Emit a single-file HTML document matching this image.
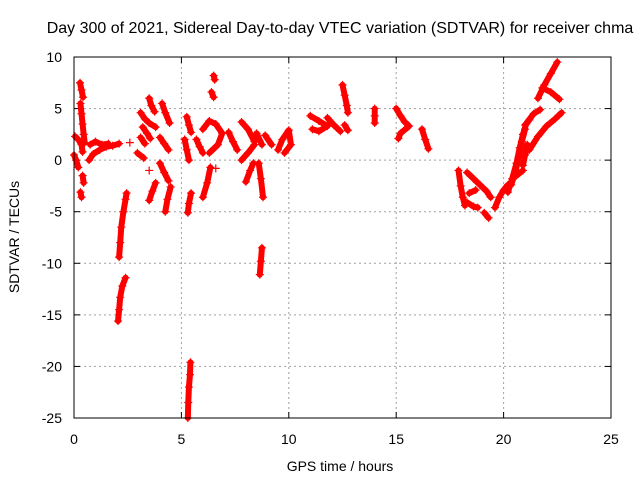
<!DOCTYPE html>
<html><head><meta charset="utf-8"><style>
body{margin:0;background:#fff;}
svg text{font-family:"Liberation Sans",sans-serif;font-size:14px;fill:#000;}
</style></head><body>
<svg id="chart" width="640" height="480" xmlns="http://www.w3.org/2000/svg">
<rect width="640" height="480" fill="#fff"/>
<text x="340" y="33" text-anchor="middle" style="font-size:16px">Day 300 of 2021, Sidereal Day-to-day VTEC variation (SDTVAR) for receiver chma</text>
<g id="grid"></g>
<g id="ticks"></g>
<g id="marks"></g>
<rect x="74" y="57" width="537" height="361" fill="none" stroke="#000" stroke-width="1"/>
<text x="340" y="471" text-anchor="middle">GPS time / hours</text>
<text transform="translate(19,237) rotate(-90)" text-anchor="middle">SDTVAR / TECUs</text>
</svg>
<script>
const xTicks=[0,5,10,15,20,25];
const yTicks=[10,5,0,-5,-10,-15,-20,-25];
const tracks=[
[[0.28,7.5],[0.35,6.8],[0.42,6.1]],
[[0.3,5.5],[0.35,4.5],[0.4,3.5],[0.45,2.5],[0.5,1.7]],
[[0.05,2.3],[0.2,2.0],[0.35,1.5],[0.4,0.8]],
[[0.0,0.5],[0.1,0.0],[0.2,-0.7]],
[[0.4,-1.5],[0.45,-2.2]],
[[0.3,-3.1],[0.35,-3.6]],
[[0.7,0.0],[0.9,0.6],[1.2,1.0],[1.5,1.3],[1.8,1.4],[2.1,1.6]],
[[0.75,1.5],[1.0,1.8],[1.3,1.5],[1.6,1.6]],
[[2.1,-9.4],[2.15,-8.0],[2.2,-6.5],[2.3,-5.0],[2.4,-3.8],[2.45,-3.2]],
[[2.05,-15.6],[2.1,-14.5],[2.15,-13.3],[2.25,-12.2],[2.4,-11.4]],
[[2.6,1.7]],
[[3.5,6.0],[3.6,5.3],[3.75,4.7]],
[[3.1,4.6],[3.3,4.0],[3.5,3.6],[3.8,3.2]],
[[3.2,3.2],[3.4,2.6],[3.55,2.1]],
[[3.1,2.2],[3.3,1.6]],
[[2.95,0.7],[3.25,0.2]],
[[3.5,-1.0]],
[[3.5,-3.9],[3.65,-3.0],[3.8,-2.2]],
[[4.1,5.5],[4.25,4.6],[4.45,3.6]],
[[4.0,2.2],[4.2,1.6],[4.4,1.0]],
[[4.0,-0.3],[4.2,-1.2],[4.4,-2.0]],
[[4.25,-5.0],[4.35,-3.8],[4.5,-2.6]],
[[5.25,4.2],[5.35,3.4],[5.45,2.7]],
[[5.15,2.0],[5.25,1.0],[5.35,0.0]],
[[5.3,-5.1],[5.35,-4.2],[5.45,-3.2]],
[[5.3,-25.0],[5.32,-23.5],[5.35,-22.0],[5.4,-20.8],[5.42,-19.6]],
[[6.5,8.2],[6.55,7.8]],[[6.4,6.6],[6.5,6.1]],
[[5.7,2.0],[5.85,1.3],[6.0,0.7]],
[[6.0,3.0],[6.3,3.8],[6.6,3.5],[6.9,2.6],[6.7,1.5],[6.3,0.7]],
[[6.0,-3.6],[6.2,-2.2],[6.35,-0.7]],
[[6.6,-0.8]],
[[7.2,2.7],[7.4,1.8],[7.6,1.0]],
[[7.8,3.7],[8.1,3.0],[8.4,1.8]],
[[7.8,0.0],[8.1,0.7],[8.4,1.5]],
[[8.0,-2.1],[8.2,-1.0],[8.35,-0.3]],
[[8.5,2.6],[8.75,1.5]],
[[8.6,-0.3],[8.7,-1.8],[8.8,-3.6]],
[[8.65,-11.1],[8.7,-9.8],[8.75,-8.5]],
[[8.9,2.4],[9.2,1.5]],
[[9.5,1.0],[9.7,2.0],[10.0,2.9],[10.1,1.5],[9.8,0.7]],
[[11.0,4.3],[11.4,3.8],[11.8,3.3],[11.4,2.8],[11.1,3.0]],
[[11.8,4.1],[12.1,3.4],[12.4,2.8]],
[[12.5,7.3],[12.6,6.3],[12.7,5.3],[12.75,4.6]],
[[12.6,3.4],[12.75,2.9]],
[[14.0,5.0],[14.0,4.3],[14.0,3.6]],
[[15.0,5.0],[15.2,4.3],[15.4,3.7],[15.6,3.3],[15.2,2.6],[15.1,2.1]],
[[16.2,3.0],[16.35,2.0],[16.5,1.1]],
[[17.9,-1.0],[18.0,-2.5],[18.1,-3.6],[18.2,-4.4]],
[[18.3,-1.2],[18.6,-1.8],[18.9,-2.4],[19.2,-3.0],[19.4,-3.6]],
[[18.4,-3.2],[18.7,-2.9]],
[[18.3,-4.1],[18.6,-4.5],[18.8,-4.6]],
[[19.1,-5.1],[19.3,-5.6]],
[[19.6,-4.6],[19.8,-3.6],[20.0,-2.9],[20.2,-2.4]],
[[20.2,-3.1],[20.4,-1.8],[20.6,-0.3],[20.75,1.2],[20.9,2.5],[21.05,3.5],[21.2,3.9]],
[[20.35,-2.4],[20.55,-1.2],[20.7,0.3],[20.85,1.8],[21.0,3.0]],
[[20.9,-0.5],[21.0,0.5],[21.1,1.5]],
[[21.6,6.0],[21.9,7.3],[22.2,8.4],[22.5,9.5]],
[[21.8,7.0],[22.2,6.6],[22.6,5.9]],
[[21.2,1.0],[21.6,2.3],[22.0,3.3],[22.4,4.0],[22.7,4.6]],
[[21.0,3.4],[21.4,4.5],[21.7,4.9]],
[[20.6,-1.5],[20.9,-1.0]]
];
const X0=74,X1=611,Y0=57,Y1=418;
function xs(t){return X0+(t-0)/25*(X1-X0);}
function ys(v){return Y0+(10-v)/35*(Y1-Y0);}
const NS='http://www.w3.org/2000/svg';
const grid=document.getElementById('grid'),ticks=document.getElementById('ticks'),marks=document.getElementById('marks');
function mk(tag,attrs,parent){const e=document.createElementNS(NS,tag);for(const k in attrs)e.setAttribute(k,attrs[k]);parent.appendChild(e);return e;}
xTicks.forEach(t=>{const x=xs(t);
 if(t>0&&t<25){const g=mk('line',{x1:x,x2:x,y1:Y0,y2:Y1,stroke:'#a0a0a0','stroke-dasharray':'2,3'},grid);
 
 }
 mk('line',{x1:x,x2:x,y1:Y1,y2:Y1-6,stroke:'#000'},ticks);
 mk('line',{x1:x,x2:x,y1:Y0,y2:Y0+6,stroke:'#000'},ticks);
 const l=mk('text',{x:x,y:444,'text-anchor':'middle'},ticks);l.textContent=t;
 
 });
yTicks.forEach(v=>{const y=ys(v);
 if(v<10&&v>-25){const g=mk('line',{x1:X0,x2:X1,y1:y,y2:y,stroke:'#a0a0a0','stroke-dasharray':'2,3'},grid);
 
 }
 mk('line',{x1:X0,x2:X0+6,y1:y,y2:y,stroke:'#000'},ticks);
 mk('line',{x1:X1,x2:X1-6,y1:y,y2:y,stroke:'#000'},ticks);
 const l=mk('text',{x:62,y:y+5,'text-anchor':'end'},ticks);l.textContent=v;
 
 });
tracks.forEach(tr=>{
 if(tr.length>1){const pl=mk('polyline',{points:tr.map(p=>xs(p[0])+','+ys(p[1])).join(' '),fill:'none',stroke:'#f00','stroke-width':6,'stroke-linejoin':'round','stroke-linecap':'round'},marks);
 
 }
 tr.forEach(p=>{const x=xs(p[0]),y=ys(p[1]);
  const c=mk('path',{d:`M${x-4},${y}H${x+4}M${x},${y-4}V${y+4}`,stroke:'#f00','stroke-width':1.2},marks);
  
  });
});
</script>
</body></html>
